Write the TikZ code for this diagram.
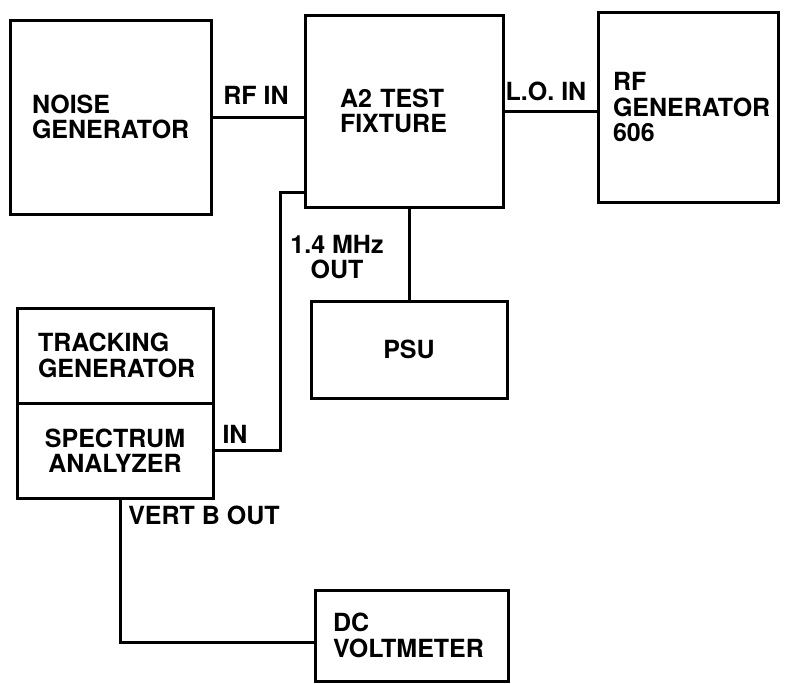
\documentclass[tikz,border=0pt]{standalone}
\usepackage{fontspec}
\setsansfont{TeX Gyre Heros}
\begin{document}
\begin{tikzpicture}[
    x=1pt, y=-1pt,
    font=\sffamily\bfseries\fontsize{25}{25.5}\selectfont,
    box/.style={draw=black, line width=3pt, align=left},
    cbox/.style={draw=black, line width=3pt, align=center},
    wire/.style={line width=3pt, line join=miter},
    tag/.style={inner sep=0pt},
]
\useasboundingbox (0,0) rectangle (786,683);
\node[box, minimum height=194, text width=157, inner xsep=22] (noise) at (110.5,117) {NOISE\\GENERATOR};
\node[box, minimum height=192, text width=128, inner xsep=35] (fixture) at (404,111) {A2 TEST\\FIXTURE};
\node[box, minimum height=190, text width=150, inner xsep=15] (rfgen) at (688,107) {RF\\GENERATOR\\606};
\node[cbox, minimum width=196, minimum height=97] (psu) at (409,349.5) {PSU};
\node[box, minimum height=95, text width=154, inner xsep=21] (track) at (115,355.5) {TRACKING\\GENERATOR};
\node[cbox, minimum width=196, minimum height=95] (spec) at (115,450.5) {SPECTRUM\\ANALYZER};
\node[box, minimum height=91, text width=157, inner xsep=18] (dcv) at (411.5,635.5) {DC\\VOLTMETER};
\coordinate (inbend) at (280,192);
\coordinate (vbend) at (120,642);
\draw[wire] (noise.east) -- (noise.east -| fixture.west);
\draw[wire] (fixture.east) -- (fixture.east -| rfgen.west);
\draw[wire] (psu.north) -- (psu.north |- fixture.south);
\draw[wire] (spec.east) -| (inbend) -- (inbend -| fixture.west);
\draw[wire] ([xshift=5]spec.south) -- (vbend) -- (vbend -| dcv.west);
\node[tag] (rfin) at (256,95) {RF IN};
\node[tag] (loin) at (546,91) {L.O. IN};
\node[tag, align=center] (mhz) at (337,257) {1.4 MHz\\OUT};
\node[tag] (specin) at (235,434) {IN};
\node[tag] (vertb) at (204,515) {VERT B OUT};
\end{tikzpicture}
\end{document}
